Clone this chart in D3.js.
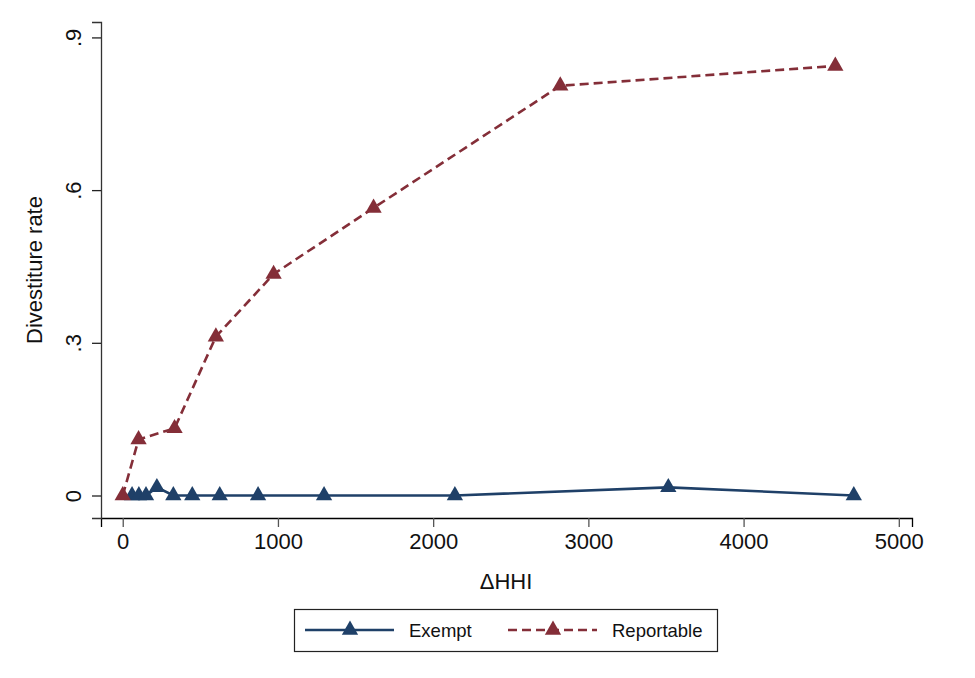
<!DOCTYPE html>
<html>
<head>
<meta charset="utf-8">
<script src="https://cdn.jsdelivr.net/npm/d3@7"></script>
<style>
  html, body { margin: 0; padding: 0; background: #fff; }
  svg { display: block; font-family: "Liberation Sans", Arial, sans-serif; }
</style>
</head>
<body>
<div id="chart"></div>
<script>
// values
const exemptX = [60, 104, 150, 220, 326, 448, 625, 872, 1297, 2140, 3515, 4710];
const exemptY = [0, 0, 0, 0.016, 0, 0, 0, 0, 0, 0, 0.016, 0];
const reportableX = [0, 102, 334, 600, 972, 1616, 2819, 4591];
const reportableY = [0, 0.110, 0.132, 0.312, 0.435, 0.565, 0.805, 0.844];
const xTicks = [0, 1000, 2000, 3000, 4000, 5000];
const yTicks = [0, 0.3, 0.6, 0.9];
const yTickLabels = ["0", ".3", ".6", ".9"];
const seriesNames = ["Exempt", "Reportable"];

document.addEventListener("DOMContentLoaded", function() {
    const width = 975;
    const height = 678;

    const svg = d3.select("#chart")
        .append("svg")
        .attr("width", width)
        .attr("height", height);

    const xScale = d3.scaleLinear().domain([-140, 5085]).range([101, 912]);
    const yScale = d3.scaleLinear().domain([-0.0442, 0.9303]).range([518, 22]);

    // axes
    const xAxis = svg.append("g")
        .attr("transform", "translate(0,518)")
        .call(d3.axisBottom(xScale).tickValues(xTicks).tickFormat(d3.format("d")).tickSizeOuter(0).tickSize(9).tickPadding(6));
    xAxis.select(".domain").attr("stroke", "#000").attr("stroke-width", 1.3);
    xAxis.selectAll(".tick line").attr("stroke", "#555").attr("stroke-width", 1.3);
    xAxis.selectAll(".tick text").attr("font-size", 22).attr("fill", "#111");

    const yAxis = svg.append("g")
        .attr("transform", "translate(101,0)")
        .call(d3.axisLeft(yScale).tickValues(yTicks).tickSizeOuter(0).tickSize(9).tickFormat((d, i) => yTickLabels[i]));
    yAxis.select(".domain").attr("stroke", "#333").attr("stroke-width", 1.3);
    yAxis.selectAll(".tick line").attr("stroke", "#222").attr("stroke-width", 1.3);
    yAxis.selectAll(".tick text")
        .attr("font-size", 22)
        .attr("fill", "#111")
        .attr("x", null)
        .attr("dy", null)
        .attr("text-anchor", "middle")
        .attr("transform", "translate(-20,0) rotate(-90)");

    svg.append("text")
        .attr("transform", "translate(42,270) rotate(-90)")
        .attr("text-anchor", "middle")
        .attr("font-size", 22)
        .attr("fill", "#111")
        .text("Divestiture rate");

    svg.append("text")
        .attr("x", 506)
        .attr("y", 589)
        .attr("text-anchor", "middle")
        .attr("font-size", 22)
        .attr("fill", "#111")
        .text("\u0394HHI");

    const series = [
        { name: seriesNames[0], xs: exemptX, ys: exemptY, color: "#1f4068", dash: null },
        { name: seriesNames[1], xs: reportableX, ys: reportableY, color: "#842e38", dash: "9,5" }
    ];

    const line = d3.line().x(d => xScale(d[0])).y(d => yScale(d[1]));
    const tri = d3.symbol().type(d3.symbolTriangle).size(115);

    series.forEach(s => {
        const pts = s.xs.map((x, i) => [x, s.ys[i]]);
        svg.append("path")
            .datum(pts)
            .attr("fill", "none")
            .attr("stroke", s.color)
            .attr("stroke-width", 2.6)
            .attr("stroke-dasharray", s.dash)
            .attr("d", line);
        svg.append("g")
            .selectAll("path")
            .data(pts)
            .join("path")
            .attr("d", tri)
            .attr("transform", d => `translate(${xScale(d[0])},${yScale(d[1])})`)
            .attr("fill", s.color);
    });

    // legend
    const legend = svg.append("g");
    legend.append("rect")
        .attr("x", 294.5).attr("y", 609.5)
        .attr("width", 423).attr("height", 42)
        .attr("fill", "#fff")
        .attr("stroke", "#222")
        .attr("stroke-width", 1.2);

    const legendX = [305, 508];
    series.forEach((s, i) => {
        const g = legend.append("g").attr("transform", `translate(${legendX[i]},630)`);
        g.append("line")
            .attr("x1", 0).attr("x2", 89)
            .attr("stroke", s.color)
            .attr("stroke-width", 2.6)
            .attr("stroke-dasharray", s.dash);
        g.append("path")
            .attr("d", tri)
            .attr("transform", "translate(45,0)")
            .attr("fill", s.color);
        g.append("text")
            .attr("x", 104)
            .attr("y", 7)
            .attr("font-size", 18.5)
            .attr("fill", "#111")
            .text(s.name);
    });
});
</script>
</body>
</html>
